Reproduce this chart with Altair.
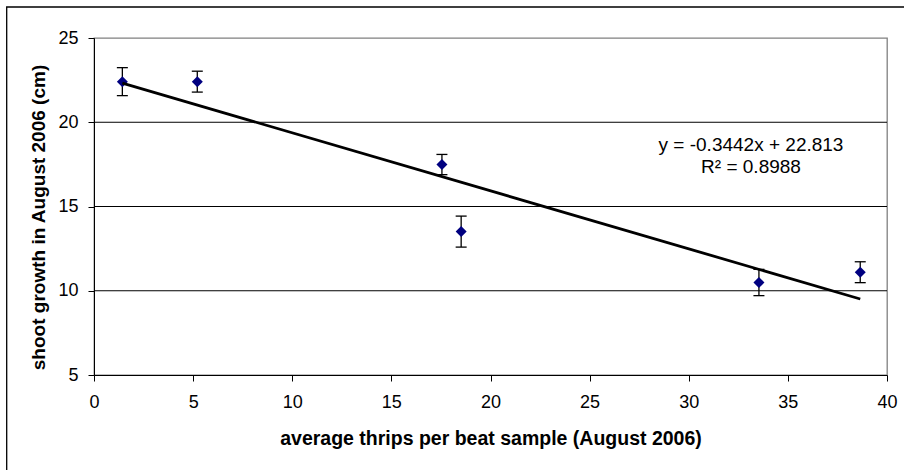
import altair as alt
import pandas as pd

# ---- data ----
thrips = [1.43, 5.21, 17.55, 18.52, 33.54, 38.65]
growth = [22.41, 22.41, 17.49, 13.51, 10.49, 11.10]
err = [0.83, 0.62, 0.60, 0.92, 0.78, 0.62]
slope = -0.3442
intercept = 22.813
grid_values = [10, 15, 20]
x_ticks = [0, 5, 10, 15, 20, 25, 30, 35, 40]
y_ticks = [5, 10, 15, 20, 25]
x_title = "average thrips per beat sample (August 2006)"
y_title = "shoot growth in August 2006 (cm)"
eq_lines = ["y = -0.3442x + 22.813", "R\u00b2 = 0.8988"]

pts = pd.DataFrame({
    "thrips": thrips,
    "growth": growth,
    "lo": [g - e for g, e in zip(growth, err)],
    "hi": [g + e for g, e in zip(growth, err)],
})
fit = pd.DataFrame({"thrips": [min(thrips), max(thrips)]})
fit["growth"] = slope * fit["thrips"] + intercept
grid_df = pd.DataFrame({"g": grid_values})

FONT = "Liberation Sans"
xscale = alt.Scale(domain=[0, 40], nice=False, zero=False)
yscale = alt.Scale(domain=[5, 25], nice=False, zero=False)

xaxis = alt.Axis(values=x_ticks, title=x_title, grid=False, tickSize=6,
                 labelPadding=12, labelFontSize=18, labelFlush=False,
                 labelOverlap=False, titleFontSize=19.5, titleFontWeight="bold",
                 titleY=63, titleBaseline="middle")
yaxis = alt.Axis(values=y_ticks, title=y_title, grid=False, tickSize=6,
                 labelPadding=10, labelFontSize=18, labelFlush=False,
                 labelOverlap=False, titleFontSize=19, titleFontWeight="bold",
                 titleX=-56, titleY=179, titleAngle=270, titleAlign="center",
                 titleBaseline="middle")

X = alt.X("thrips:Q", scale=xscale, axis=xaxis)
Y = alt.Y("growth:Q", scale=yscale, axis=yaxis)

one = alt.Data(values=[{}])

frame = alt.Chart(one).mark_rect(fillOpacity=0, stroke="black", strokeWidth=1.3).encode(
    x=alt.value(-87.3), x2=alt.value(830), y=alt.value(-31), y2=alt.value(470))

grid = alt.Chart(grid_df).mark_rule(color="black", strokeWidth=1).encode(
    y=alt.Y("g:Q", scale=yscale, axis=yaxis))

bars = alt.Chart(pts).mark_rule(color="black", strokeWidth=1.3).encode(
    x=X, y=alt.Y("lo:Q", scale=yscale, axis=yaxis), y2="hi:Q")
cap_lo = alt.Chart(pts).mark_tick(orient="horizontal", size=11, thickness=1.3,
                                  color="black", opacity=1).encode(
    x=X, y=alt.Y("lo:Q", scale=yscale, axis=yaxis))
cap_hi = alt.Chart(pts).mark_tick(orient="horizontal", size=11, thickness=1.3,
                                  color="black", opacity=1).encode(
    x=X, y=alt.Y("hi:Q", scale=yscale, axis=yaxis))

points = alt.Chart(pts).mark_point(shape="diamond", filled=True, size=121,
                                   color="#000080", opacity=1).encode(x=X, y=Y)

line = alt.Chart(fit).mark_line(color="black", strokeWidth=2.8).encode(x=X, y=Y)

eq1 = alt.Chart(one).mark_text(text=eq_lines[0], fontSize=19, font=FONT,
                               align="center", baseline="middle", color="black").encode(
    x=alt.value(657), y=alt.value(107))
eq2 = alt.Chart(one).mark_text(text=eq_lines[1], fontSize=19, font=FONT,
                               align="center", baseline="middle", color="black").encode(
    x=alt.value(657), y=alt.value(129))

chart = alt.layer(frame, grid, bars, cap_lo, cap_hi, points, line, eq1, eq2).properties(
    width=793, height=337,
    autosize=alt.AutoSizeParams(type="none"),
    padding={"left": 94, "top": 38, "right": 17, "bottom": 95},
    background="white",
).configure_view(
    stroke="#808080", strokeWidth=1.3, fill="white"
).configure_axis(
    labelFont=FONT, titleFont=FONT, domainColor="black", tickColor="black",
    labelColor="black", titleColor="black", domainWidth=1, tickWidth=1,
)

chart.save("out.html", embed_options={"renderer": "svg", "actions": False})
